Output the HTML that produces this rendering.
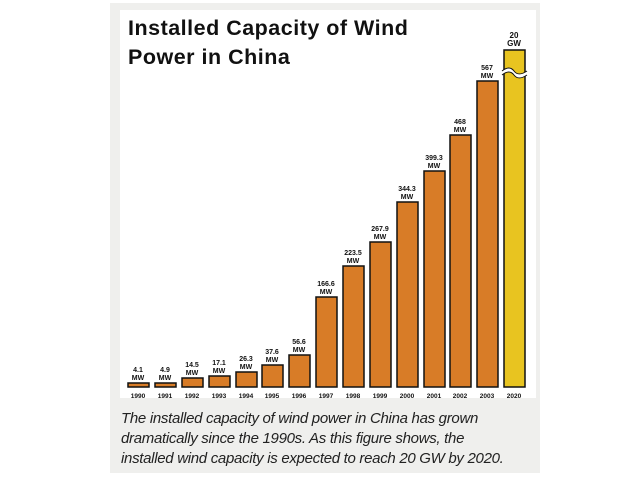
<!DOCTYPE html>
<html><head><meta charset="utf-8"><style>
body{margin:0;width:640px;height:480px;background:#fff;position:relative;overflow:hidden;font-family:"Liberation Sans",sans-serif}
.panel{position:absolute;left:110px;top:3px;width:430px;height:470px;background:#efefed}
.inner{position:absolute;left:120px;top:10px;width:416px;height:388px;background:#fff}
.title{position:absolute;left:128px;top:14px;font-weight:bold;font-size:21.5px;line-height:29px;color:#111;letter-spacing:0.5px}
.cap{position:absolute;left:121px;top:409px;font-style:italic;font-size:15px;line-height:20px;color:#222;letter-spacing:-0.3px}
</style></head><body>
<div class="panel"></div><div class="inner"></div>
<div class="title">Installed Capacity of Wind<br>Power in China</div>
<svg width="640" height="480" style="position:absolute;left:0;top:0">
<g stroke="#111" stroke-width="1.5" fill="#d87c27">
<rect x="128" y="383" width="21" height="4"/>
<rect x="155" y="383" width="21" height="4"/>
<rect x="182" y="378" width="21" height="9"/>
<rect x="209" y="376" width="21" height="11"/>
<rect x="236" y="372" width="21" height="15"/>
<rect x="262" y="365" width="21" height="22"/>
<rect x="289" y="355" width="21" height="32"/>
<rect x="316" y="297" width="21" height="90"/>
<rect x="343" y="266" width="21" height="121"/>
<rect x="370" y="242" width="21" height="145"/>
<rect x="397" y="202" width="21" height="185"/>
<rect x="424" y="171" width="21" height="216"/>
<rect x="450" y="135" width="21" height="252"/>
<rect x="477" y="81" width="21" height="306"/>
<rect x="504" y="50" width="21" height="337" fill="#e8c420"/>
</g>
<path d="M502,71 C507,67 511,67 514,71 S521,75 527,71 L527,75 C521,79 517,79 514,75 S507,71 502,75 Z" fill="#fff" stroke="none"/>
<path d="M502,71 C507,67 511,67 514,71 S521,75 527,71 M527,75 C521,79 517,79 514,75 S507,71 502,75" fill="none" stroke="#111" stroke-width="1"/>
<g font-family="Liberation Sans Narrow,Liberation Sans,sans-serif" font-weight="bold" font-size="7" fill="#111" text-anchor="middle">
<text x="138" y="372">4.1</text><text x="138" y="380">MW</text>
<text x="165" y="372">4.9</text><text x="165" y="380">MW</text>
<text x="192" y="367">14.5</text><text x="192" y="375">MW</text>
<text x="219" y="365">17.1</text><text x="219" y="373">MW</text>
<text x="246" y="361">26.3</text><text x="246" y="369">MW</text>
<text x="272" y="354">37.6</text><text x="272" y="362">MW</text>
<text x="299" y="344">56.6</text><text x="299" y="352">MW</text>
<text x="326" y="286">166.6</text><text x="326" y="294">MW</text>
<text x="353" y="255">223.5</text><text x="353" y="263">MW</text>
<text x="380" y="231">267.9</text><text x="380" y="239">MW</text>
<text x="407" y="191">344.3</text><text x="407" y="199">MW</text>
<text x="434" y="160">399.3</text><text x="434" y="168">MW</text>
<text x="460" y="124">468</text><text x="460" y="132">MW</text>
<text x="487" y="70">567</text><text x="487" y="78">MW</text>
<text x="514" y="38" font-size="8">20</text><text x="514" y="46" font-size="8">GW</text>
<g font-size="6.5">
<text x="138" y="398">1990</text><text x="165" y="398">1991</text><text x="192" y="398">1992</text><text x="219" y="398">1993</text><text x="246" y="398">1994</text><text x="272" y="398">1995</text><text x="299" y="398">1996</text><text x="326" y="398">1997</text><text x="353" y="398">1998</text><text x="380" y="398">1999</text><text x="407" y="398">2000</text><text x="434" y="398">2001</text><text x="460" y="398">2002</text><text x="487" y="398">2003</text><text x="514" y="398">2020</text>
</g></g>
</svg>
<div class="cap">The installed capacity of wind power in China has grown<br>dramatically since the 1990s. As this figure shows, the<br>installed wind capacity is expected to reach 20 GW by 2020.</div>
</body></html>
